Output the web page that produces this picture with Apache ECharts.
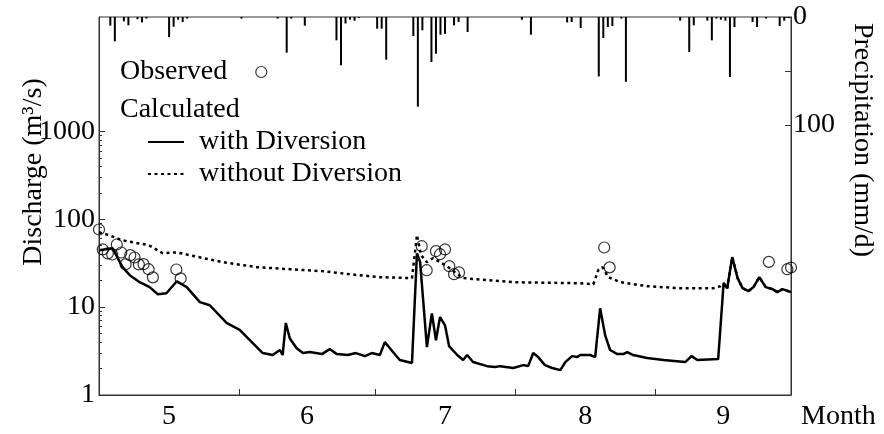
<!DOCTYPE html>
<html>
<head>
<meta charset="utf-8">
<script src="https://cdn.jsdelivr.net/npm/echarts@6/dist/echarts.min.js"></script>
<style>
  html, body { margin: 0; padding: 0; background: #fff; }
  #chart { width: 884px; height: 434px; }
</style>
</head>
<body>
<div id="chart"></div>
<script>
// days counted from May 1
const monthLabels = ['5', '6', '7', '8', '9']
const monthStart = [0, 31, 61, 92, 123, 153]

// precipitation (mm/d): [day, value]
const precipitation = [
  [2, 8], [3, 22.5], [5, 4], [6, 7.7], [8, 2], [9, 5], [10, 1.5], [15, 18.5], [16, 9], [17, 2.5],
  [18, 4.6], [19, 1.5], [31, 1.5], [39, 1.5], [41, 33], [42, 1.5], [45, 8], [52, 21.6], [53, 44.7],
  [54, 6], [55, 2.5], [56, 3.4], [57, 1], [61, 10.8], [62, 10.8], [63, 39.5], [69, 17.6], [70, 83],
  [71, 12.3], [73, 41.7], [74, 34], [75, 16.4], [76, 15.4], [78, 7.7], [79, 4.6], [81, 13.9],
  [93, 2.5], [95, 16.4], [103, 5], [104, 4.6], [106, 10.2], [110, 55], [111, 19.4], [112, 9.3],
  [113, 8.3], [115, 1.5], [116, 60], [128, 3.4], [130, 32.4], [131, 7.7], [134, 3.4], [135, 21.6],
  [136, 1.5], [137, 2.5], [138, 3.4], [139, 55.6], [140, 9.3], [144, 4.6], [145, 9.3], [147, 1.5],
  [150, 8.3], [151, 3.4], [152, 1]
]

// calculated discharge with diversion (m3/s)
const withDiversion = [
  [0.1, 44.4], [3.0, 46.8], [5.2, 28.5], [6.8, 23.1], [9.0, 19.2], [11.2, 16.9], [13.0, 14.0],
  [14.9, 14.4], [17.2, 19.7], [19.4, 16.9], [22.3, 11.4], [24.5, 10.5], [28.2, 6.6], [31.1, 5.5],
  [34.0, 3.9], [36.2, 3.0], [38.4, 2.85], [40.0, 3.25], [40.6, 2.85], [41.3, 6.6], [42.2, 4.4],
  [43.7, 3.4], [45.1, 3.0], [46.6, 3.08], [49.3, 2.92], [51.0, 3.33], [52.6, 2.92], [55.0, 2.85],
  [56.8, 3.0], [58.8, 2.77], [60.3, 3.0], [62.1, 2.85], [63.2, 4.0], [65.0, 3.08], [66.5, 2.5],
  [69.2, 2.31], [70.3, 41], [71.0, 32.5], [72.5, 3.5], [73.6, 8.5], [74.5, 4.2], [75.4, 7.7],
  [76.5, 6.2], [77.4, 3.6], [79.2, 2.85], [80.5, 2.5], [81.4, 2.85], [82.7, 2.37], [85.8, 2.13],
  [87.6, 2.08], [88.7, 2.13], [91.6, 2.03], [93.8, 2.19], [94.9, 2.13], [96.0, 3.0], [97.1, 2.7],
  [98.6, 2.19], [100.2, 2.03], [102.0, 1.92], [103.1, 2.37], [104.6, 2.77], [105.7, 2.7],
  [106.4, 2.85], [108.6, 2.85], [109.7, 2.7], [110.8, 9.7], [111.9, 4.8], [113.0, 3.25],
  [114.6, 2.92], [115.9, 2.92], [116.8, 3.08], [118.1, 2.85], [121.2, 2.63], [124.8, 2.5],
  [129.6, 2.37], [131.0, 2.77], [132.3, 2.5], [136.9, 2.56], [138.1, 18.7], [138.9, 16.4],
  [140.0, 37], [141.2, 21.4], [142.3, 16.4], [143.6, 15.2], [144.7, 16.9], [146.0, 21.9],
  [147.4, 16.9], [148.9, 16.0], [150.0, 14.8], [151.1, 16.0], [153.0, 14.8]
]

// calculated discharge without diversion (m3/s)
const withoutDiversion = [
  [0, 71], [2.3, 65.8], [5.0, 57.7], [11.0, 50.7], [14.1, 41], [17.2, 42], [20.0, 39],
  [27.3, 32.5], [34.9, 28.5], [42.2, 27.0], [50.0, 25.5], [56.0, 23.5], [62.1, 21.9],
  [69.2, 21.4], [70.3, 66], [71.2, 39], [72.5, 32.5], [73.8, 36], [75.4, 32.5], [77.0, 29],
  [78.7, 25], [80.5, 21.4], [91.6, 19.2], [106.4, 18.7], [109.3, 18.2], [110.4, 26.4],
  [111.3, 28.5], [112.6, 21.9], [115.3, 19.2], [121.2, 17.3], [128.5, 16.4], [135.8, 16.4],
  [137.4, 17.3], [138.1, 18.7], [138.9, 16.4], [140.0, 37], [141.2, 21.4], [142.3, 16.4],
  [143.6, 15.2], [144.7, 16.9], [146.0, 21.9], [147.4, 16.9], [148.9, 16.0], [150.0, 14.8],
  [151.1, 16.0], [153.0, 14.8]
]

// observed discharge (m3/s)
const observed = [
  [0, 76.4], [0.84, 45.3], [1.95, 40.8], [2.92, 39.7], [3.94, 51.6], [4.92, 41.8], [5.87, 30.8],
  [6.91, 39], [7.86, 36.7], [8.81, 30.6], [9.85, 30.8], [10.96, 27], [11.91, 21.8], [17.1, 26.8],
  [18.05, 21.2], [71.35, 49.3], [72.45, 26.3], [74.5, 43.3], [75.4, 40], [76.5, 45.3],
  [77.46, 29.2], [78.5, 23.7], [79.6, 24.8], [111.7, 47.7], [112.9, 28.3], [148.1, 32.7],
  [152.2, 27], [153, 28.2]
]

const dischargeMin = 1
const dischargeMax = 20000
const dischargeTicks = [1, 10, 100, 1000]
const dischargeMinor = []
for (let p = 1; p <= 100; p *= 10) {
    for (let m = 2; m <= 9; m++) dischargeMinor.push(m * p)
}
const rainTicks = [0, 50, 100]
const rainLabels = [0, 100]

const font = 'Liberation Serif'
const ink = '#000'
const axisInk = '#333'

let chart = echarts.init(document.getElementById('chart'))

let monthMid = []
for (let i = 0; i < monthLabels.length; i++) {
    monthMid.push((monthStart[i] + monthStart[i + 1]) / 2)
}

// extra log axis that only carries the sub-decade tick marks
const minorTickAxis = {
    type: 'log',
    min: dischargeMin, max: dischargeMax,
    position: 'left',
    axisLine: { show: false, onZero: false },
    axisTick: { show: true, inside: true, length: 3, customValues: dischargeMinor, lineStyle: { color: axisInk } },
    axisLabel: { show: false },
    splitLine: { show: false }
}

const option = {
    animation: false,
    textStyle: { fontFamily: font, color: ink },
    grid: {
        left: 99, right: 93, top: 17, bottom: 39,
        show: true,
        borderColor: axisInk,
        borderWidth: 1,
        backgroundColor: 'rgba(0,0,0,0)',
        outerBoundsMode: 'none'
    },
    legend: [{
        data: ['Observed'],
        left: 120, top: 58,
        padding: 0,
        align: 'right',
        itemWidth: 58, itemHeight: 11,
        itemStyle: { borderWidth: 1.2 },
        textStyle: { fontSize: 28, color: ink, fontFamily: font },
        selectedMode: false
    }, {
        data: ['with Diversion', 'without Diversion'],
        orient: 'vertical',
        left: 147, top: 128,
        padding: 0,
        itemGap: 4,
        itemWidth: 36, itemHeight: 14,
        itemStyle: { color: 'rgba(0,0,0,0)', borderWidth: 0, opacity: 0 },
        textStyle: { fontSize: 28, color: ink, fontFamily: font, padding: [0, 0, 0, 10] },
        selectedMode: false
    }],
    graphic: [{
        type: 'text', left: 120, top: 96,
        style: { text: 'Calculated', fontSize: 28, fontFamily: font, fill: ink }
    }, {
        type: 'text', left: 801, top: 403,
        style: { text: 'Month', fontSize: 28, fontFamily: font, fill: ink }
    }, {
        type: 'text', x: 34, y: 172, rotation: Math.PI / 2,
        style: { text: 'Discharge (m³/s)', fontSize: 28, fontFamily: font, fill: ink, align: 'center', verticalAlign: 'middle' }
    }, {
        type: 'text', x: 862, y: 140, rotation: -Math.PI / 2,
        style: { text: 'Precipitation (mm/d)', fontSize: 28, fontFamily: font, fill: ink, align: 'center', verticalAlign: 'middle' }
    }],
    xAxis: {
        type: 'value',
        min: 0, max: 153,
        axisLine: { onZero: false, lineStyle: { color: axisInk, width: 1 } },
        axisTick: { inside: true, length: 6, customValues: monthStart, lineStyle: { color: axisInk } },
        axisLabel: {
            customValues: monthMid,
            fontSize: 28, color: ink, fontFamily: font, margin: 8,
            formatter: function (val) {
                for (let i = 0; i < monthLabels.length; i++) {
                    if (val >= monthStart[i] && val < monthStart[i + 1]) return monthLabels[i]
                }
                return ''
            }
        },
        splitLine: { show: false }
    },
    yAxis: [{
        type: 'log',
        min: dischargeMin, max: dischargeMax,
        position: 'left',
        axisLine: { show: true, onZero: false, lineStyle: { color: axisInk, width: 1 } },
        axisTick: { show: true, inside: true, length: 6, customValues: dischargeTicks, lineStyle: { color: axisInk } },
        axisLabel: {
            customValues: dischargeTicks,
            fontSize: 28, color: ink, fontFamily: font, margin: 4,
            formatter: function (val) { return String(Math.round(val)) }
        },
        splitLine: { show: false }
    },
    minorTickAxis,
    {
        type: 'value',
        min: 0, max: 350,
        inverse: true,
        position: 'right',
        axisLine: { show: true, onZero: false, lineStyle: { color: axisInk, width: 1 } },
        axisTick: { inside: true, length: 6, customValues: rainTicks, lineStyle: { color: axisInk } },
        axisLabel: {
            customValues: rainLabels,
            fontSize: 28, color: ink, fontFamily: font, margin: 2
        },
        splitLine: { show: false }
    }],
    series: [{
        name: 'Precipitation',
        type: 'bar',
        yAxisIndex: 2,
        barWidth: 2,
        itemStyle: { color: ink },
        data: precipitation.map(function (d) { return [d[0] + 0.5, d[1]] })
    }, {
        name: 'with Diversion',
        type: 'line',
        yAxisIndex: 0,
        symbol: 'none',
        lineStyle: { color: ink, width: 2.5, type: 'solid' },
        itemStyle: { color: ink },
        data: withDiversion
    }, {
        name: 'without Diversion',
        type: 'line',
        yAxisIndex: 0,
        symbol: 'none',
        lineStyle: { color: ink, width: 2.5, type: [3, 3.5] },
        itemStyle: { color: ink },
        data: withoutDiversion
    }, {
        name: 'Observed',
        type: 'scatter',
        yAxisIndex: 0,
        symbol: 'circle',
        symbolSize: 11,
        clip: false,
        itemStyle: { color: 'rgba(0,0,0,0)', borderColor: ink, borderWidth: 1.2 },
        z: 5,
        data: observed
    }]
}

chart.setOption(option)
</script>
</body>
</html>
